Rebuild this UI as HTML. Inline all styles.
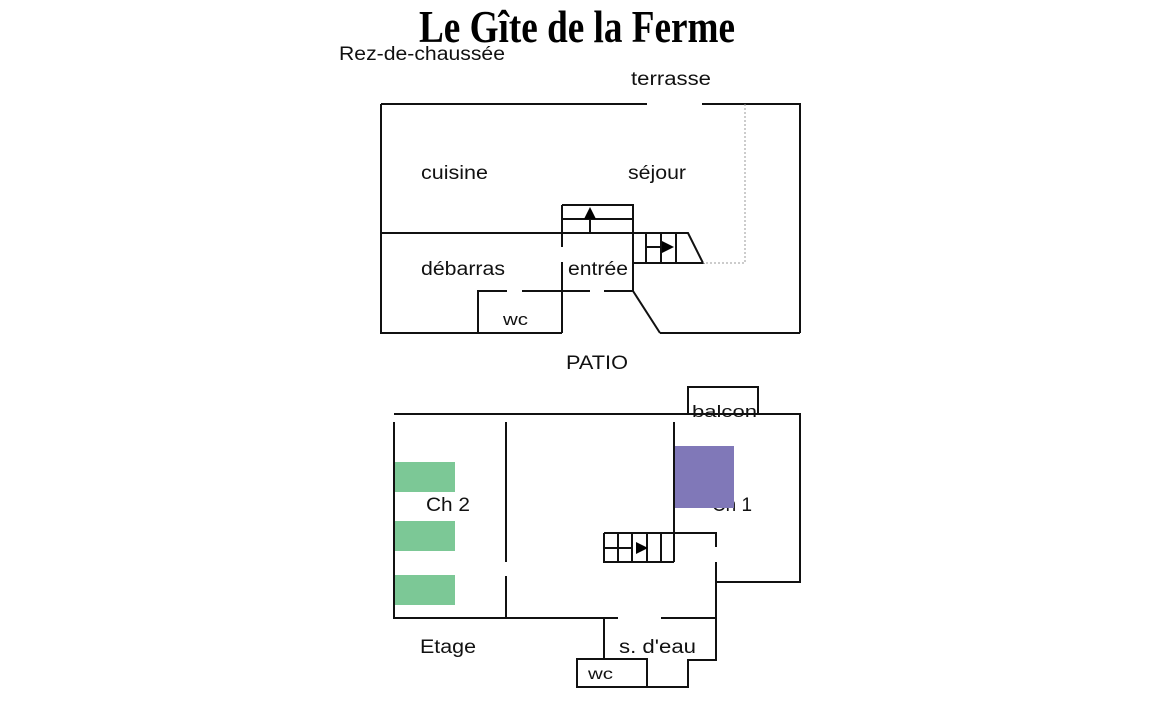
<!DOCTYPE html>
<html><head><meta charset="utf-8"><style>
html,body{margin:0;padding:0;background:#fff;}
svg{display:block;}
text{font-family:"Liberation Sans",sans-serif;font-size:19px;fill:#111;}
</style></head><body>
<svg width="1150" height="706" viewBox="0 0 1150 706" xmlns="http://www.w3.org/2000/svg">
<rect width="1150" height="706" fill="#fff"/>
<text x="419" y="42" textLength="316" lengthAdjust="spacingAndGlyphs" style="font-family:'Liberation Serif',serif;font-weight:bold;font-size:46px;fill:#000">Le Gîte de la Ferme</text>
<text x="339" y="60" textLength="166" lengthAdjust="spacingAndGlyphs">Rez-de-chaussée</text>
<text x="631" y="85" textLength="80" lengthAdjust="spacingAndGlyphs">terrasse</text>
<text x="421" y="179" textLength="67" lengthAdjust="spacingAndGlyphs">cuisine</text>
<text x="628" y="179" textLength="58" lengthAdjust="spacingAndGlyphs">séjour</text>
<text x="421" y="275" textLength="84" lengthAdjust="spacingAndGlyphs">débarras</text>
<text x="568" y="275" textLength="60" lengthAdjust="spacingAndGlyphs">entrée</text>
<text x="503" y="325" textLength="25" lengthAdjust="spacingAndGlyphs" style="font-size:17px">wc</text>
<text x="566" y="369" textLength="62" lengthAdjust="spacingAndGlyphs">PATIO</text>
<text x="692" y="417" textLength="65" lengthAdjust="spacingAndGlyphs" style="font-size:17px">balcon</text>
<text x="426" y="511" textLength="44" lengthAdjust="spacingAndGlyphs">Ch 2</text>
<text x="712" y="511" textLength="40" lengthAdjust="spacingAndGlyphs">Ch 1</text>
<text x="420" y="653" textLength="56" lengthAdjust="spacingAndGlyphs">Etage</text>
<text x="619" y="653" textLength="77" lengthAdjust="spacingAndGlyphs">s. d'eau</text>
<text x="588" y="679" textLength="25" lengthAdjust="spacingAndGlyphs" style="font-size:16px">wc</text>
<g stroke="#111" stroke-width="2" fill="none">
<path d="M381 104H647M702 104H800V333M381 104V333H562M660 333H800M633 291L660 333"/>
<path d="M381 233H688L703 263H633"/>
<path d="M562 205H633V291M562 219H633M562 205V247M562 262V333M590 219V233"/>
<path d="M646 233V263M661 233V263M676 233V263M646 247H664"/>
<path d="M478 333V291H507M522 291H590M604 291H633"/>
<path d="M394 414H800V582H717M688 414V387H758V414"/>
<path d="M394 422V618H618M661 618H716M506 422V562M506 576V618M674 422V562"/>
<path d="M604 533H716V547M716 562V660H688V687H577V659H647V687M604 618V659"/>
<path d="M604 533V562H674M604 548H632M618 533V562M632 533V562M647 533V562M661 533V562"/>
</g>
<path d="M745 104V263H703" stroke="#999" stroke-width="1" stroke-dasharray="2,2" fill="none"/>
<polygon points="590,207 584,219 596,219" fill="#000"/>
<polygon points="674,247 662,241 662,253" fill="#000"/>
<polygon points="648,548 636,542 636,554" fill="#000"/>
<rect x="395" y="462" width="60" height="30" fill="#7cc896"/>
<rect x="395" y="521" width="60" height="30" fill="#7cc896"/>
<rect x="395" y="575" width="60" height="30" fill="#7cc896"/>
<rect x="675" y="446" width="59" height="62" fill="#8078b8"/>
</svg>
</body></html>
